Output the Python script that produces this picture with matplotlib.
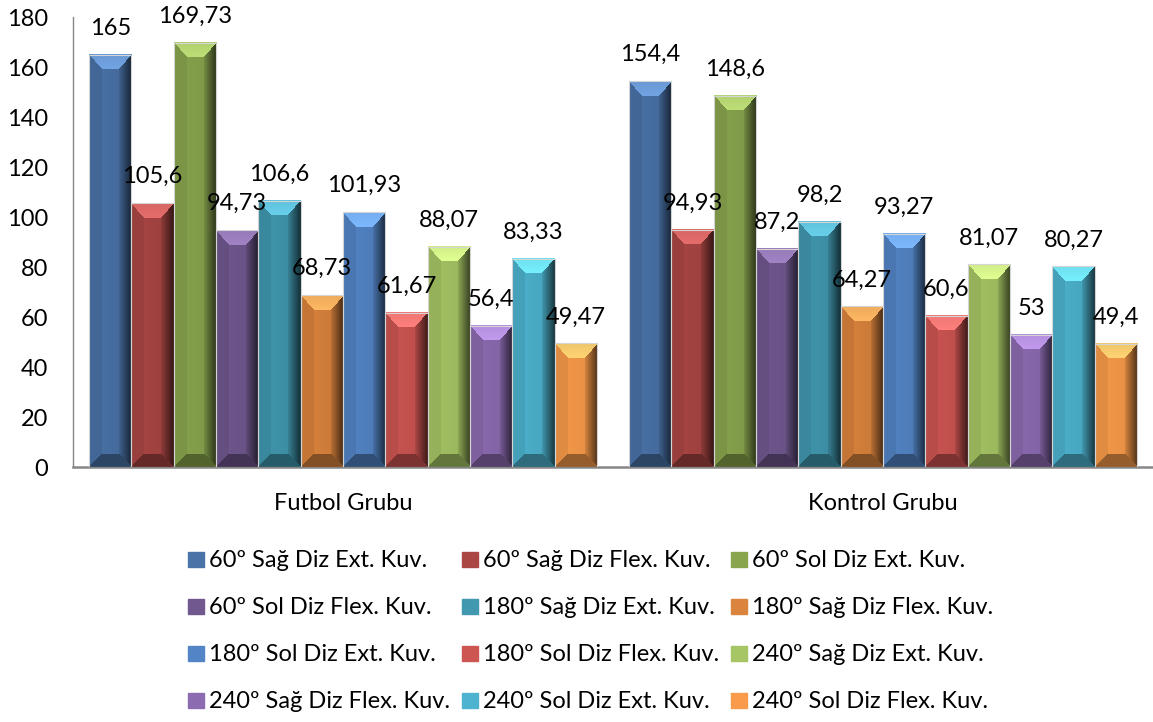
import numpy as np
import matplotlib
matplotlib.use("Agg")
import matplotlib.pyplot as plt
from matplotlib.colors import to_rgb
from matplotlib.patches import Patch

plt.rcParams['font.family'] = ['Lato', 'DejaVu Sans']

gruplar = ["Futbol Grubu", "Kontrol Grubu"]
seriler = [
    "60º Sağ Diz Ext. Kuv.", "60º Sağ Diz Flex. Kuv.", "60º Sol Diz Ext. Kuv.",
    "60º Sol Diz Flex. Kuv.", "180º Sağ Diz Ext. Kuv.", "180º Sağ Diz Flex. Kuv.",
    "180º Sol Diz Ext. Kuv.", "180º Sol Diz Flex. Kuv.", "240º Sağ Diz Ext. Kuv.",
    "240º Sağ Diz Flex. Kuv.", "240º Sol Diz Ext. Kuv.", "240º Sol Diz Flex. Kuv.",
]
futbol = [165, 105.6, 169.73, 94.73, 106.6, 68.73, 101.93, 61.67, 88.07, 56.4, 83.33, 49.47]
kontrol = [154.4, 94.93, 148.6, 87.2, 98.2, 64.27, 93.27, 60.6, 81.07, 53, 80.27, 49.4]
renkler = ['#4A73A8', '#AA4644', '#89A54E', '#71588F', '#4198AF', '#DB843D',
           '#5385C6', '#CD5552', '#A6C564', '#8C6BB1', '#4DB3CF', '#F99B4A']

degerler = np.array([futbol, kontrol])  # satir: grup, sutun: seri
FS = 17


def bevel(renk, wpx, hpx, st=15, ss=13):
    """Excel tarzi kabartmali cubuk dokusu (piksel cozunurlugunde)."""
    base = np.array(to_rgb(renk))
    yy, xx = np.mgrid[0:hpx, 0:wpx] + 0.5
    # kenarlara olan uzakliklar, kenar genisligine gore olceklenmis
    d = np.stack([yy / st, (hpx - yy) / ss, xx / ss, (wpx - xx) / ss])
    m = d.min(axis=0)
    hangi = d.argmin(axis=0)
    g = 1.0 - 0.10 * (xx / wpx)
    img = base[None, None, :] * g[..., None]
    kenar = m < 1
    ust = kenar & (hangi == 0)
    alt = kenar & (hangi == 1)
    sol = kenar & (hangi == 2)
    sag = kenar & (hangi == 3)
    acik = np.clip(base * 1.2 + 0.1, 0, 1)
    img[ust] = (acik * (0.93 + 0.07 * d[0][..., None]))[ust]
    img[alt] = base * 0.6
    img[sol] = base * 0.9
    f = (0.3 + 0.55 * d[3])[..., None]
    img[sag] = (base * f)[sag]
    return np.clip(img, 0, 1)


fig = plt.figure(figsize=(11.53, 7.22), dpi=100)
ax = fig.add_axes([73 / 1153, 1 - 467 / 722, 1080 / 1153, (467 - 17) / 722])
ax.set_xlim(-0.5, 1.5)
ax.set_ylim(0, 180)

n = len(seriler)
w = 0.9407 / n
x = np.arange(len(gruplar))

px_x = ax.bbox.width / 2.0
px_y = ax.bbox.height / 180.0

for i in range(n):
    xs = x + (i - (n - 1) / 2) * w
    bars = ax.bar(xs, degerler[:, i], w, color=renkler[i], zorder=2, label=seriler[i])
    for b, v in zip(bars, degerler[:, i]):
        x0 = b.get_x()
        img = bevel(renkler[i], int(round(w * px_x)), int(round(v * px_y)))
        ax.imshow(img, extent=(x0, x0 + w, 0, v), origin='upper', aspect='auto',
                  interpolation='nearest', zorder=3)
        ax.annotate(f"{v:g}".replace('.', ','), (x0 + w / 2, v),
                    xytext=(0, 19), textcoords='offset points',
                    ha='center', va='center', fontsize=FS, zorder=5)
    ax.bar(xs, degerler[:, i], w, fill=False, edgecolor='#D4D4D4', lw=0.8, zorder=4)

ax.set_xlim(-0.5, 1.5)
ax.set_ylim(0, 180)
ax.set_yticks(np.arange(0, 181, 20))
ax.set_xticks(x)
ax.set_xticklabels(gruplar)
ax.tick_params(axis='both', length=0, labelsize=FS)
ax.tick_params(axis='y', pad=18)
ax.tick_params(axis='x', pad=19)
for k in ['top', 'right']:
    ax.spines[k].set_visible(False)
for k in ['left', 'bottom']:
    ax.spines[k].set_color('#868686')
ax.spines['left'].set_linewidth(1.0)
ax.spines['bottom'].set_linewidth(1.8)

# lejant: satir sirasiyla doldurmak icin sutun duzenine cevir
tutucular = [Patch(facecolor=renkler[i], edgecolor=renkler[i]) for i in range(n)]
sira = [r * 3 + c for c in range(3) for r in range(4)]
fig.legend([tutucular[j] for j in sira], [seriler[j] for j in sira],
           loc='upper center', bbox_to_anchor=(0.512, 1 - 541 / 722), ncol=3,
           frameon=False, fontsize=FS, handlelength=0.68, handleheight=0.6,
           handletextpad=0.21, columnspacing=0.5, labelspacing=1.1,
           borderaxespad=0)

fig.savefig("out.png", dpi=100)
